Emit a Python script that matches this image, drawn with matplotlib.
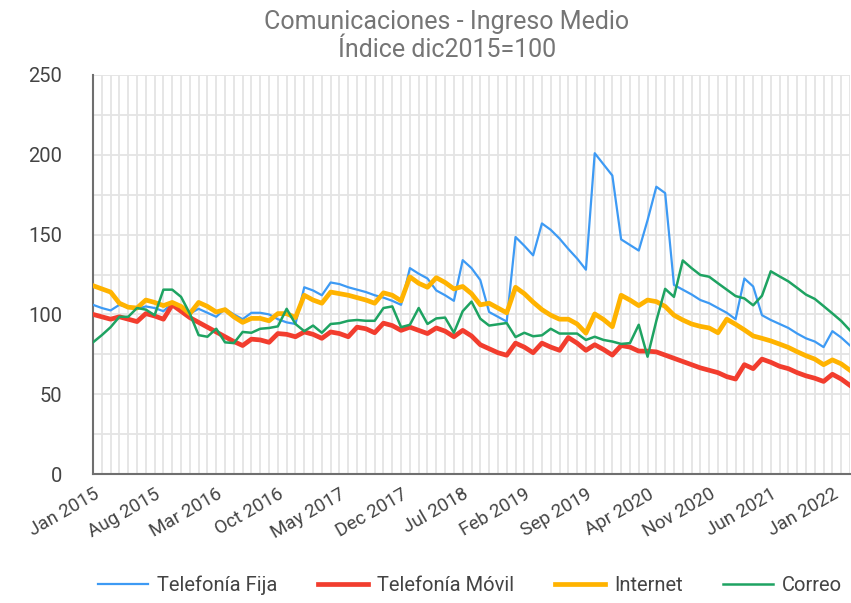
import numpy as np
import matplotlib
matplotlib.use("Agg")
import matplotlib.pyplot as plt
from matplotlib.ticker import MultipleLocator

plt.rcParams['font.family'] = ['Roboto', 'DejaVu Sans']

# monthly index, Jan 2015 .. Mar 2022 (dic2015 = 100)
tick_labels = ["Jan 2015", "Aug 2015", "Mar 2016", "Oct 2016", "May 2017", "Dec 2017",
               "Jul 2018", "Feb 2019", "Sep 2019", "Apr 2020", "Nov 2020", "Jun 2021",
               "Jan 2022"]

fija = [106, 104, 102.5, 106, 104.5, 103.5, 105, 104, 102, 107,
        104, 100.5, 103.5, 101, 98.5, 103.5, 100, 97, 101, 101,
        100, 97, 95, 94, 117, 115, 112, 120, 119, 117,
        115.5, 114, 112, 110.5, 108.5, 106, 129, 125.5, 122.5, 115,
        112, 108.5, 134, 129, 121.5, 101.5, 98.5, 95.5, 148.5, 143,
        137, 157, 153, 147.5, 141, 135, 128, 201, 194, 187,
        147, 143.5, 140, 159, 180, 176, 118.5, 115.5, 112.5, 109,
        107, 104, 101, 97, 122.5, 117.5, 99.5, 96.5, 94, 91.5,
        88, 85, 83, 79.5, 89.5, 85.5, 80.5]

movil = [100, 98.5, 97, 98.5, 97, 95.5, 100.5, 99, 97, 106,
         102, 98, 95, 92, 89, 86, 83, 80.5, 84.5, 84,
         82.5, 88, 87.5, 86, 89, 87.5, 85, 89, 88, 86,
         92, 91, 88.5, 94.5, 93, 90, 92, 90, 88, 91.5,
         89.5, 86, 90, 86.5, 81, 78.5, 76, 74.4, 82, 79.5,
         76, 82, 79.5, 77.5, 85.5, 82, 77.5, 81, 78, 74.5,
         80.5, 79.5, 77, 77, 76.5, 74.5, 72.5, 70.5, 68.5, 66.5,
         65, 63.5, 61, 59.5, 68.5, 66, 72, 70, 67.5, 66,
         63.5, 61.5, 60, 58, 62.5, 59.5, 55.5]

internet = [118, 116, 114, 107, 104.5, 104, 109, 107.5, 105.5, 107.5,
            105, 100.5, 107.5, 105, 101.5, 103, 98.5, 95, 97.5, 97.5,
            96, 100.5, 100.5, 98, 112, 109, 107, 114, 113, 112,
            110.5, 109, 107, 113.5, 112, 108.5, 123.5, 119.5, 117, 123,
            120, 116, 117.5, 113, 106, 107, 104, 101, 117, 113,
            107.7, 103, 99.5, 97, 97, 94, 88.3, 100.3, 96.8, 92.3,
            112, 109, 105.5, 109, 108, 105, 99.5, 96.5, 94, 92.5,
            91.5, 88.5, 97, 93.8, 90.3, 86.5, 85, 83.4, 81.4, 79.3,
            76.6, 74.1, 72, 68.5, 71.5, 69, 65]

correo = [82.5, 87, 92, 98.5, 98.5, 104, 103, 99.5, 115.5, 115.5,
          111, 100.5, 87, 86, 91, 82.5, 82, 89, 88.5, 91,
          91.5, 92.5, 103.5, 94, 89.5, 93, 88.5, 94, 94.5, 96,
          96.5, 96, 96, 104, 105, 92, 93.5, 104, 94, 97.5,
          98, 88.5, 102, 108, 97.3, 93, 93.8, 94.6, 85.8, 88.5,
          86.3, 86.9, 91, 88, 88, 88, 84, 86, 84, 83,
          81.5, 82, 93.5, 73.5, 96, 116, 111, 133.8, 129, 124.7,
          123.6, 119.5, 115.5, 111.5, 110, 105.7, 111.7, 127, 123.8, 120.7,
          116.6, 112.4, 109.7, 105.2, 100.6, 95.9, 90]

x = np.arange(len(fija))

fig = plt.figure(figsize=(8.51, 6.03), dpi=100)
ax = fig.add_axes([93/851, 1 - 474/603, (850 - 93)/851, (474 - 75)/603])

ax.plot(x, fija, color='#3d9af4', lw=1.6, label='Telefonía Fija', zorder=3)
ax.plot(x, movil, color='#f23d2e', lw=3.4, label='Telefonía Móvil', zorder=3)
ax.plot(x, internet, color='#ffb300', lw=3.4, label='Internet', zorder=3)
ax.plot(x, correo, color='#1ea362', lw=1.8, label='Correo', zorder=3)

ax.set_xlim(0, len(fija) - 1)
ax.set_ylim(0, 250)
ax.yaxis.set_major_locator(MultipleLocator(50))
ax.yaxis.set_minor_locator(MultipleLocator(25))
ax.set_xticks(x, minor=True)
ax.set_xticks(np.arange(0, len(fija), 7))
ax.set_xticklabels(tick_labels, rotation=30, ha='right', rotation_mode='anchor')

ax.grid(True, which='both', axis='both', color='#e4e4e4', lw=1.3, zorder=0)
ax.set_axisbelow(True)
ax.tick_params(which='both', length=0)
ax.tick_params(axis='y', labelsize=14.5, labelcolor='#444444', pad=22)
ax.tick_params(axis='x', labelsize=13.5, labelcolor='#444444', pad=8)

for s in ['top', 'right']:
    ax.spines[s].set_visible(False)
for s in ['left', 'bottom']:
    ax.spines[s].set_color('#6f6f6f')
    ax.spines[s].set_linewidth(1.5)

fig.text(447/851, 1 - 36/603, "Comunicaciones - Ingreso Medio\nÍndice dic2015=100",
         ha='center', va='center', fontsize=18, color='#757575', linespacing=1.2)

fig.legend(loc='center', bbox_to_anchor=(470/851, 1 - 585/603), ncol=4, frameon=False,
           fontsize=14.5, labelcolor='#444444', handlelength=2.5, handletextpad=0.45,
           columnspacing=2.0)

fig.savefig("out.png", dpi=100)
